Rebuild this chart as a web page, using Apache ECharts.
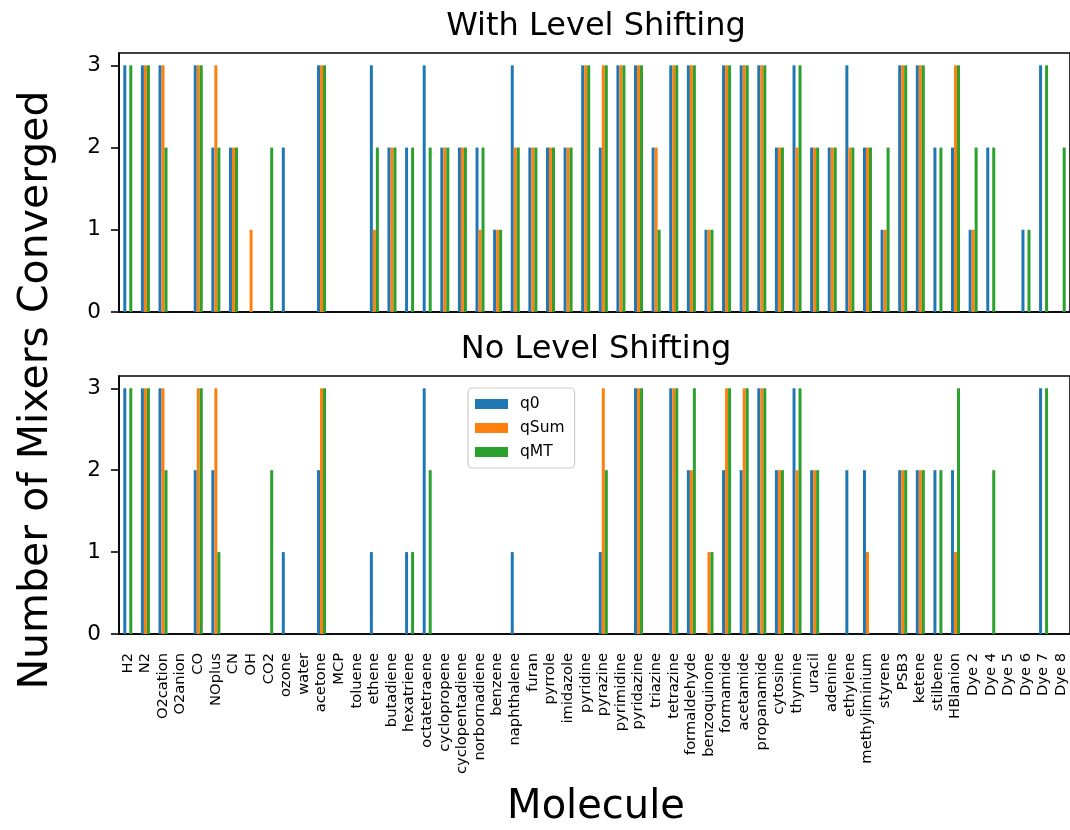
<!DOCTYPE html>
<html><head><meta charset="utf-8">
<script src="https://cdn.jsdelivr.net/npm/echarts@6/dist/echarts.min.js"></script>
<style>html,body{margin:0;padding:0;background:#fff}#c{width:1070px;height:830px}</style>
</head><body><div id="c"></div>
<script>
const categories = ["H2","N2","O2cation","O2anion","CO","NOplus","CN","OH","CO2","ozone","water","acetone","MCP","toluene","ethene","butadiene","hexatriene","octatetraene","cyclopropene","cyclopentadiene","norbornadiene","benzene","naphthalene","furan","pyrrole","imidazole","pyridine","pyrazine","pyrimidine","pyridazine","triazine","tetrazine","formaldehyde","benzoquinone","formamide","acetamide","propanamide","cytosine","thymine","uracil","adenine","ethylene","methyliminium","styrene","PSB3","ketene","stilbene","HBlanion","Dye 2","Dye 4","Dye 5","Dye 6","Dye 7","Dye 8"];
const yTicks = [0, 1, 2, 3];
const seriesNames = ["q0", "qSum", "qMT"];
const panelTitles = ["With Level Shifting", "No Level Shifting"];

// With Level Shifting
const withQ0   = [3,3,3,0,3,2,2,0,0,2,0,3,0,0,3,2,2,3,2,2,2,1,3,2,2,2,3,2,3,3,2,3,3,1,3,3,3,2,3,2,2,3,2,1,3,3,2,2,1,2,0,1,3,0];
const withQSum = [0,3,3,0,3,3,2,1,0,0,0,3,0,0,1,2,0,0,2,2,1,1,2,2,2,2,3,3,3,3,2,3,3,1,3,3,3,2,2,2,2,2,2,1,3,3,0,3,1,0,0,0,0,0];
const withQMT  = [3,3,2,0,3,2,2,0,2,0,0,3,0,0,2,2,2,2,2,2,2,1,2,2,2,2,3,3,3,3,1,3,3,1,3,3,3,2,3,2,2,2,2,2,3,3,2,3,2,2,0,1,3,2];

// No Level Shifting
const noQ0   = [3,3,3,0,2,2,0,0,0,1,0,2,0,0,1,0,1,3,0,0,0,0,1,0,0,0,0,1,0,3,0,3,2,0,2,2,3,2,3,2,0,2,2,0,2,2,2,2,0,0,0,0,3,0];
const noQSum = [0,3,3,0,3,3,0,0,0,0,0,3,0,0,0,0,0,0,0,0,0,0,0,0,0,0,0,3,0,3,0,3,2,1,3,3,3,2,2,2,0,0,1,0,2,2,0,1,0,0,0,0,0,0];
const noQMT  = [3,3,2,0,3,1,0,0,2,0,0,3,0,0,0,0,1,2,0,0,0,0,0,0,0,0,0,2,0,3,0,3,3,1,3,3,3,2,3,2,0,0,0,0,2,2,2,3,0,2,0,0,3,0];

const colors = ["#1f77b4", "#ff7f0e", "#2ca02c"];
const FONT = "DejaVu Sans";

const chart = echarts.init(document.getElementById('c'), null, {renderer: 'canvas'});

const grids = [
  {left: 119, top: 53, width: 954, height: 259},
  {left: 119, top: 376, width: 954, height: 258}
];

function xAxis(i, showLabels) {
  return {
    type: 'category', gridIndex: i, data: categories, boundaryGap: true,
    axisLine: {lineStyle: {color: '#000', width: 1.6}},
    axisTick: {alignWithLabel: true, length: 8, interval: 0, lineStyle: {color: '#000', width: 1.6}},
    axisLabel: {show: showLabels, interval: 0, rotate: 90, margin: 19, color: '#000', fontFamily: FONT, fontSize: 14.7},
    splitLine: {show: false}
  };
}
function yAxis(i) {
  return {
    type: 'value', gridIndex: i, min: 0, max: 3.15, interval: 1,
    axisLine: {show: true, lineStyle: {color: '#000', width: 1.6}},
    axisTick: {show: true, length: 8, customValues: yTicks, lineStyle: {color: '#000', width: 1.6}},
    axisLabel: {customValues: yTicks, margin: 18, color: '#000', fontFamily: FONT, fontSize: 21.5},
    splitLine: {show: false}
  };
}

const data = [[withQ0, withQSum, withQMT], [noQ0, noQSum, noQMT]];
const series = [];
data.forEach((panel, p) => {
  panel.forEach((vals, k) => {
    series.push({
      type: 'bar', name: seriesNames[k], xAxisIndex: p, yAxisIndex: p,
      data: vals, barWidth: 3, barGap: '0%',
      itemStyle: {color: colors[k]},
      emphasis: {disabled: true}
    });
  });
});

chart.setOption({
  animation: false,
  color: colors,
  textStyle: {fontFamily: FONT},
  grid: grids.map(g => Object.assign({show: true, borderColor: '#000', borderWidth: 1.6, backgroundColor: 'transparent'}, g)),
  xAxis: [xAxis(0, false), xAxis(1, true)],
  yAxis: [yAxis(0), yAxis(1)],
  legend: {
    data: seriesNames, orient: 'vertical', left: 468, top: 388,
    itemWidth: 33, itemHeight: 10, itemGap: 8,
    icon: 'rect',
    padding: [8, 10, 8, 7],
    borderColor: '#d0d0d0', borderWidth: 1.2, borderRadius: 4,
    backgroundColor: 'rgba(255,255,255,0.8)',
    textStyle: {fontFamily: FONT, fontSize: 15.5, color: '#000', lineHeight: 16, padding: [0, 0, 0, 7]}
  },
  graphic: [
    {type: 'text', x: 596, y: 27, style: {text: panelTitles[0], font: '32px "DejaVu Sans"', fill: '#000', textAlign: 'center', textVerticalAlign: 'middle'}},
    {type: 'text', x: 596, y: 350, style: {text: panelTitles[1], font: '32px "DejaVu Sans"', fill: '#000', textAlign: 'center', textVerticalAlign: 'middle'}},
    {type: 'text', x: 36, y: 390, rotation: Math.PI / 2, style: {text: 'Number of Mixers Converged', font: '41px "DejaVu Sans"', fill: '#000', textAlign: 'center', textVerticalAlign: 'middle'}},
    {type: 'text', x: 596, y: 808, style: {text: 'Molecule', font: '40px "DejaVu Sans"', fill: '#000', textAlign: 'center', textVerticalAlign: 'middle'}}
  ],
  series: series
});
</script>
</body></html>
